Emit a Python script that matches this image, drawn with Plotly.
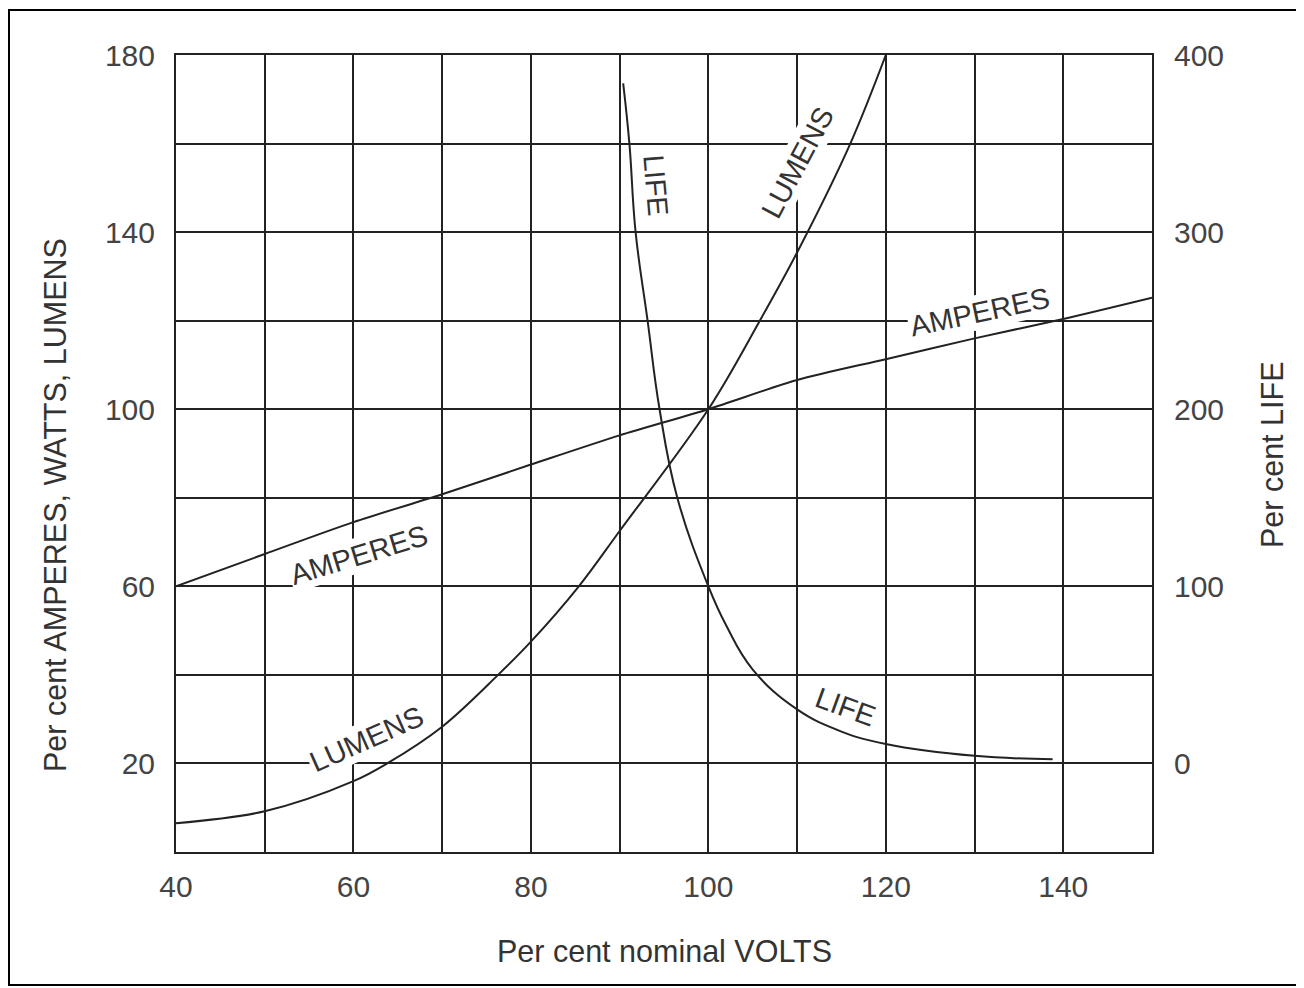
import plotly.graph_objects as go

# ---- data ----
volts_amp = [40, 50, 60, 70, 80, 90, 100, 110, 120, 130, 140, 150]
amperes = [60, 67.3, 74.5, 80.8, 87.5, 94.1, 100, 106.6, 111.3, 116, 120.4, 125.2]

volts_lum = [40, 50, 60, 63.8, 70, 76.3, 80, 85.4, 90, 100, 105.8, 110, 116, 120]
lumens = [6.5, 9.2, 16, 20, 28.3, 40, 47.5, 60, 72.5, 100, 120, 135.4, 160, 180]

volts_life = [90.4, 91.1, 91.8, 93.15, 94.5, 96.5, 100, 102, 105, 110, 115, 120, 130, 138.8]
life = [384, 350, 300, 250, 200, 150, 100, 78, 53, 30.5, 18, 11, 4.3, 2.4]

x_ticks = [40, 60, 80, 100, 120, 140]
y_left_ticks = [20, 60, 100, 140, 180]
y_right_ticks = [0, 100, 200, 300, 400]

# curve labels: (text, x, y_left, angle)
curve_labels = [
    ("LIFE", 94.1, 150.7, 85),
    ("LUMENS", 110.0, 155.7, -62),
    ("AMPERES", 130.6, 121.9, -12),
    ("AMPERES", 60.6, 67.1, -17),
    ("LUMENS", 61.5, 25.6, -24),
    ("LIFE", 115.5, 32.8, 20),
]

FONT = "Liberation Sans, Arial, sans-serif"
LINE = "#222222"
TXT = "#333333"

# plot area in screen pixels (page has an 8px body margin)
PL, PR, PT, PB = 176, 1152, 55, 852
PW, PH = PR - PL, PB - PT
OFF = 8
FIG_W, FIG_H = 1304 - OFF, 988 - OFF


def px(x):
    return (x - PL) / PW


def py(y):
    return (PB - y) / PH


fig = go.Figure()
fig.add_trace(go.Scatter(x=volts_amp, y=amperes, mode="lines",
                         line=dict(color=LINE, width=2, shape="spline", smoothing=0.8),
                         showlegend=False))
fig.add_trace(go.Scatter(x=volts_lum, y=lumens, mode="lines",
                         line=dict(color=LINE, width=2, shape="spline", smoothing=1.0),
                         showlegend=False))
fig.add_trace(go.Scatter(x=volts_life, y=life, mode="lines", yaxis="y2",
                         line=dict(color=LINE, width=2, shape="spline", smoothing=1.2),
                         showlegend=False))

for text, x, y, ang in curve_labels:
    fig.add_annotation(x=x, y=y, xref="x", yref="y", text=text, showarrow=False,
                       textangle=ang, bgcolor="white", borderpad=1,
                       xanchor="center", yanchor="middle",
                       font=dict(family=FONT, size=29, color=TXT))

# axis titles
title_font = dict(family=FONT, size=30.5, color=TXT)
fig.add_annotation(x=px(55), y=py(505), xref="paper", yref="paper",
                   xanchor="center", yanchor="middle",
                   text="Per cent AMPERES, WATTS, LUMENS", textangle=-90, showarrow=False,
                   font=title_font)
fig.add_annotation(x=px(1272), y=py(455), xref="paper", yref="paper",
                   xanchor="center", yanchor="middle",
                   text="Per cent LIFE", textangle=-90, showarrow=False,
                   font=title_font)
fig.add_annotation(x=px(664), y=py(951), xref="paper", yref="paper",
                   xanchor="center", yanchor="middle",
                   text="Per cent nominal VOLTS", showarrow=False,
                   font=title_font)

# outer frame
fig.add_shape(type="rect", xref="paper", yref="paper",
              x0=px(9), x1=px(1300), y0=py(985), y1=py(10),
              line=dict(color="black", width=2), layer="below")

tickfont = dict(family=FONT, size=30, color="#444444")
fig.update_layout(
    width=FIG_W, height=FIG_H,
    margin=dict(l=PL - OFF, r=FIG_W - (PR - OFF), t=PT - OFF, b=FIG_H - (PB - OFF)),
    paper_bgcolor="white", plot_bgcolor="white",
    xaxis=dict(range=[40, 150], tickvals=x_ticks, showgrid=True, gridcolor=LINE, gridwidth=1.5,
               minor=dict(dtick=10, tick0=0, showgrid=True, gridcolor=LINE, gridwidth=1.5),
               showline=True, linecolor=LINE, linewidth=2, mirror=True, zeroline=False,
               ticks="", ticklabelstandoff=7, tickfont=tickfont),
    yaxis=dict(range=[0, 180], tickvals=y_left_ticks, showgrid=True, gridcolor=LINE, gridwidth=1.5,
               minor=dict(dtick=20, tick0=0, showgrid=True, gridcolor=LINE, gridwidth=1.5),
               showline=True, linecolor=LINE, linewidth=2, mirror=True, zeroline=False,
               ticks="", ticklabelstandoff=13, tickfont=tickfont),
    yaxis2=dict(range=[-50, 400], tickvals=y_right_ticks, overlaying="y", side="right",
                showgrid=False, zeroline=False, ticks="", ticklabelstandoff=21,
                tickfont=tickfont),
)

fig.write_html("out.html")
